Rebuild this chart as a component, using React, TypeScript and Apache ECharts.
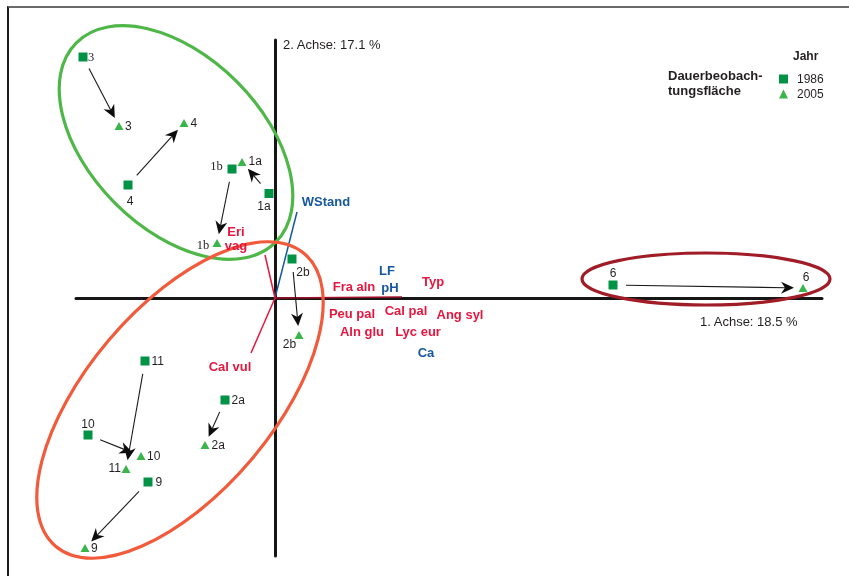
import React, { useEffect, useRef } from "react";
import * as echarts from "echarts";

// ---------- data ----------
const sites = ["3", "4", "1a", "1b", "2b", "6", "11", "10", "2a", "9"];
const x1986 = [-1.92, -1.47, -0.06, -0.43, 0.17, 3.38, -1.3, -1.87, -0.5, -1.27];
const y1986 = [2.41, 1.13, 1.045, 1.29, 0.39, 0.13, -0.63, -1.37, -1.02, -1.84];
const x2005 = [-1.56, -0.91, -0.33, -0.58, 0.24, 5.28, -1.49, -1.34, -0.7, -1.9];
const y2005 = [1.72, 1.75, 1.36, 0.55, -0.37, 0.1, -1.71, -1.58, -1.47, -2.5];

const speciesNames = ["Eri\nvag", "Fra aln", "Typ", "Peu pal", "Cal pal", "Ang syl", "Aln glu", "Lyc eur", "Cal vul"];
const speciesX = [-0.39, 0.79, 1.58, 0.77, 1.31, 1.85, 0.87, 1.43, -0.45];
const speciesY = [0.6, 0.115, 0.165, -0.15, -0.12, -0.165, -0.33, -0.33, -0.68];

const envNames = ["WStand", "LF", "pH", "Ca"];
const envX = [0.51, 1.12, 1.15, 1.51];
const envY = [0.97, 0.28, 0.105, -0.54];

const vectorNames = ["WStand", "Eri vag", "Cal vul", "Typ"];
const vectorX = [0.22, -0.1, -0.24, 1.27];
const vectorY = [0.86, 0.43, -0.55, 0.01];

const ellipseCx = [-0.99, -0.95, 4.31];
const ellipseCy = [1.555, -1.02, 0.19];
const ellipseA = [1.41, 1.92, 1.24];
const ellipseB = [0.86, 0.93, 0.26];
const ellipseAngle = [-45, 49.6, 0];

const axisTitle1 = "1. Achse: 18.5 %";
const axisTitle2 = "2. Achse: 17.1 %";

// ---------- styles / layout ----------
const SANS = '"Liberation Sans", Arial, sans-serif';
const SERIF = '"Liberation Serif", "Times New Roman", serif';
const TXT = "#231f20";
const RED = "#e5173f";
const BLUE = "#15579e";
const SQ = "#009245";
const TRI = "#39b54a";
const ellipseColors = ["#4fb748", "#f15a3a", "#a01c26"];
const vectorColors = [BLUE, RED, RED, "#a30f28"];

type LP = { dx: number; dy: number; align: string; serif?: boolean };
const lab1986: Record<string, LP> = {
  "3": { dx: 5, dy: 0, align: "left", serif: true },
  "4": { dx: 2, dy: 16, align: "center" },
  "1a": { dx: -5, dy: 12, align: "center" },
  "1b": { dx: -15.5, dy: -3, align: "center", serif: true },
  "2b": { dx: 11, dy: 13, align: "center" },
  "6": { dx: 0, dy: -12, align: "center" },
  "11": { dx: 6.5, dy: 0, align: "left" },
  "10": { dx: 0, dy: -11, align: "center" },
  "2a": { dx: 6.5, dy: 0, align: "left" },
  "9": { dx: 7.5, dy: 0, align: "left" },
};
const lab2005: Record<string, LP> = {
  "3": { dx: 6, dy: 0, align: "left" },
  "4": { dx: 6.5, dy: 0, align: "left" },
  "1a": { dx: 6.5, dy: -1, align: "left" },
  "1b": { dx: -14, dy: 1.5, align: "center", serif: true },
  "2b": { dx: -9.5, dy: 9, align: "center" },
  "6": { dx: 3, dy: -11.5, align: "center" },
  "11": { dx: -5, dy: -1.5, align: "right" },
  "10": { dx: 6, dy: -0.5, align: "left" },
  "2a": { dx: 6.5, dy: 0, align: "left" },
  "9": { dx: 6, dy: 0, align: "left" },
};

function siteData(xs: number[], ys: number[], lab: Record<string, LP>) {
  return sites.map((s, i) => {
    const l = lab[s];
    return {
      name: s,
      value: [xs[i], ys[i]],
      label: {
        show: true,
        position: "inside",
        formatter: s,
        align: l.align,
        verticalAlign: "middle",
        offset: [l.dx, l.dy],
        fontFamily: l.serif ? SERIF : SANS,
        fontSize: l.serif ? 12.5 : 12,
        color: TXT,
        opacity: 1,
      },
    };
  });
}

function renderArrow(params: any, api: any) {
  const p1 = api.coord([api.value(0), api.value(1)]);
  const p2 = api.coord([api.value(2), api.value(3)]);
  const dx = p2[0] - p1[0];
  const dy = p2[1] - p1[1];
  const len = Math.hypot(dx, dy) || 1;
  const ux = dx / len;
  const uy = dy / len;
  const s = [p1[0] + ux * 13, p1[1] + uy * 13];
  const t = [p2[0] - ux * 9, p2[1] - uy * 9];
  const hl = 13;
  const hw = 6;
  const b = [t[0] - ux * hl, t[1] - uy * hl];
  const notch = [b[0] + ux * 4, b[1] + uy * 4];
  return {
    type: "group",
    children: [
      {
        type: "line",
        shape: { x1: s[0], y1: s[1], x2: notch[0], y2: notch[1] },
        style: { stroke: "#1a1a1a", lineWidth: 1.1 },
      },
      {
        type: "polygon",
        shape: {
          points: [t, [b[0] - uy * hw, b[1] + ux * hw], notch, [b[0] + uy * hw, b[1] - ux * hw]],
        },
        style: { fill: "#0d0d0d" },
      },
    ],
  };
}

function renderEllipse(params: any, api: any) {
  const c = api.coord([api.value(0), api.value(1)]);
  const sz = api.size([api.value(2), api.value(3)]);
  return {
    type: "ellipse",
    x: c[0],
    y: c[1],
    rotation: (api.value(4) * Math.PI) / 180,
    shape: { cx: 0, cy: 0, rx: sz[0], ry: sz[1] },
    style: { fill: "none", stroke: api.visual("color"), lineWidth: 3.2 },
  };
}

function renderVector(params: any, api: any) {
  const o = api.coord([0, 0]);
  const e = api.coord([api.value(0), api.value(1)]);
  return {
    type: "line",
    shape: { x1: o[0], y1: o[1], x2: e[0], y2: e[1] },
    style: { stroke: api.visual("color"), lineWidth: 1.5 },
  };
}

export default function App() {
  const ref = useRef<HTMLDivElement>(null);
  useEffect(() => {
    if (!ref.current) return;
    const chart = echarts.init(ref.current, null, { renderer: "svg" });
    const labelTexts = [
      ...speciesNames.map((n, i) => ({ name: n, value: [speciesX[i], speciesY[i]], c: RED })),
      ...envNames.map((n, i) => ({ name: n, value: [envX[i], envY[i]], c: BLUE })),
    ];
    chart.setOption({
      animation: false,
      grid: { left: 76, right: 27, top: 40, bottom: 20, containLabel: false },
      xAxis: {
        type: "value",
        min: -1.99,
        max: 5.47,
        axisLine: { show: true, onZero: true, lineStyle: { color: "#161616", width: 3 } },
        axisTick: { show: false },
        axisLabel: { show: false },
        splitLine: { show: false },
      },
      yAxis: {
        type: "value",
        min: -2.58,
        max: 2.58,
        axisLine: { show: true, onZero: true, lineStyle: { color: "#161616", width: 3 } },
        axisTick: { show: false },
        axisLabel: { show: false },
        splitLine: { show: false },
      },
      legend: {
        data: ["1986", "2005"],
        orient: "vertical",
        left: 774,
        top: 68,
        itemWidth: 9,
        itemHeight: 9,
        itemGap: 3,
        selectedMode: false,
        itemStyle: { opacity: 1 },
        textStyle: { fontSize: 12, color: TXT, fontFamily: SANS, lineHeight: 12, padding: [0, 0, 0, 4] },
      },
      graphic: [
        { type: "text", x: 793, y: 56, style: { text: "Jahr", font: `bold 12px ${SANS}`, fill: TXT, verticalAlign: "middle" } },
        { type: "text", x: 668, y: 75, style: { text: "Dauerbeobach-", font: `bold 13px ${SANS}`, fill: TXT, verticalAlign: "middle" } },
        { type: "text", x: 668, y: 90, style: { text: "tungsfläche", font: `bold 13px ${SANS}`, fill: TXT, verticalAlign: "middle" } },
        { type: "text", x: 283, y: 44, style: { text: axisTitle2, font: `13px ${SANS}`, fill: TXT, verticalAlign: "middle" } },
        { type: "text", x: 700, y: 321, style: { text: axisTitle1, font: `13px ${SANS}`, fill: TXT, verticalAlign: "middle" } },
      ],
      series: [
        {
          type: "custom",
          name: "vectors",
          renderItem: renderVector,
          encode: { x: 0, y: 1 },
          z: 2,
          data: vectorNames.map((n, i) => ({ name: n, value: [vectorX[i], vectorY[i]], itemStyle: { color: vectorColors[i] } })),
        },
        {
          type: "custom",
          name: "ellipses",
          renderItem: renderEllipse,
          encode: { x: 0, y: 1 },
          z: 3,
          data: ellipseCx.map((cx, i) => ({
            value: [cx, ellipseCy[i], ellipseA[i], ellipseB[i], ellipseAngle[i]],
            itemStyle: { color: ellipseColors[i] },
          })),
        },
        {
          type: "custom",
          name: "arrows",
          renderItem: renderArrow,
          encode: { x: [0, 2], y: [1, 3] },
          z: 4,
          data: sites.map((s, i) => ({ name: s, value: [x1986[i], y1986[i], x2005[i], y2005[i]] })),
        },
        {
          type: "scatter",
          name: "labels",
          symbolSize: 0.1,
          itemStyle: { color: "transparent", opacity: 1 },
          z: 5,
          data: labelTexts.map((d) => ({
            name: d.name,
            value: d.value,
            label: {
              show: true,
              position: "inside",
              formatter: d.name,
              align: "center",
              verticalAlign: "middle",
              fontFamily: SANS,
              fontWeight: "bold",
              fontSize: 13,
              lineHeight: 14,
              color: d.c,
              opacity: 1,
            },
          })),
        },
        {
          type: "scatter",
          name: "1986",
          symbol: "rect",
          symbolSize: 9,
          itemStyle: { color: SQ, opacity: 1 },
          z: 6,
          data: siteData(x1986, y1986, lab1986),
        },
        {
          type: "scatter",
          name: "2005",
          symbol: "triangle",
          symbolSize: [9, 8],
          itemStyle: { color: TRI, opacity: 1 },
          z: 6,
          data: siteData(x2005, y2005, lab2005),
        },
      ],
    });
    return () => chart.dispose();
  }, []);
  return (
    <>
      <div
        style={{
          position: "fixed",
          left: 7,
          top: 6,
          width: 842,
          height: 570,
          boxSizing: "border-box",
          borderTop: "2px solid #6b6b6b",
          borderLeft: "2px solid #1c1c1c",
        }}
      />
      <div ref={ref} style={{ position: "fixed", left: 0, top: 0, width: 849, height: 576 }} />
    </>
  );
}
